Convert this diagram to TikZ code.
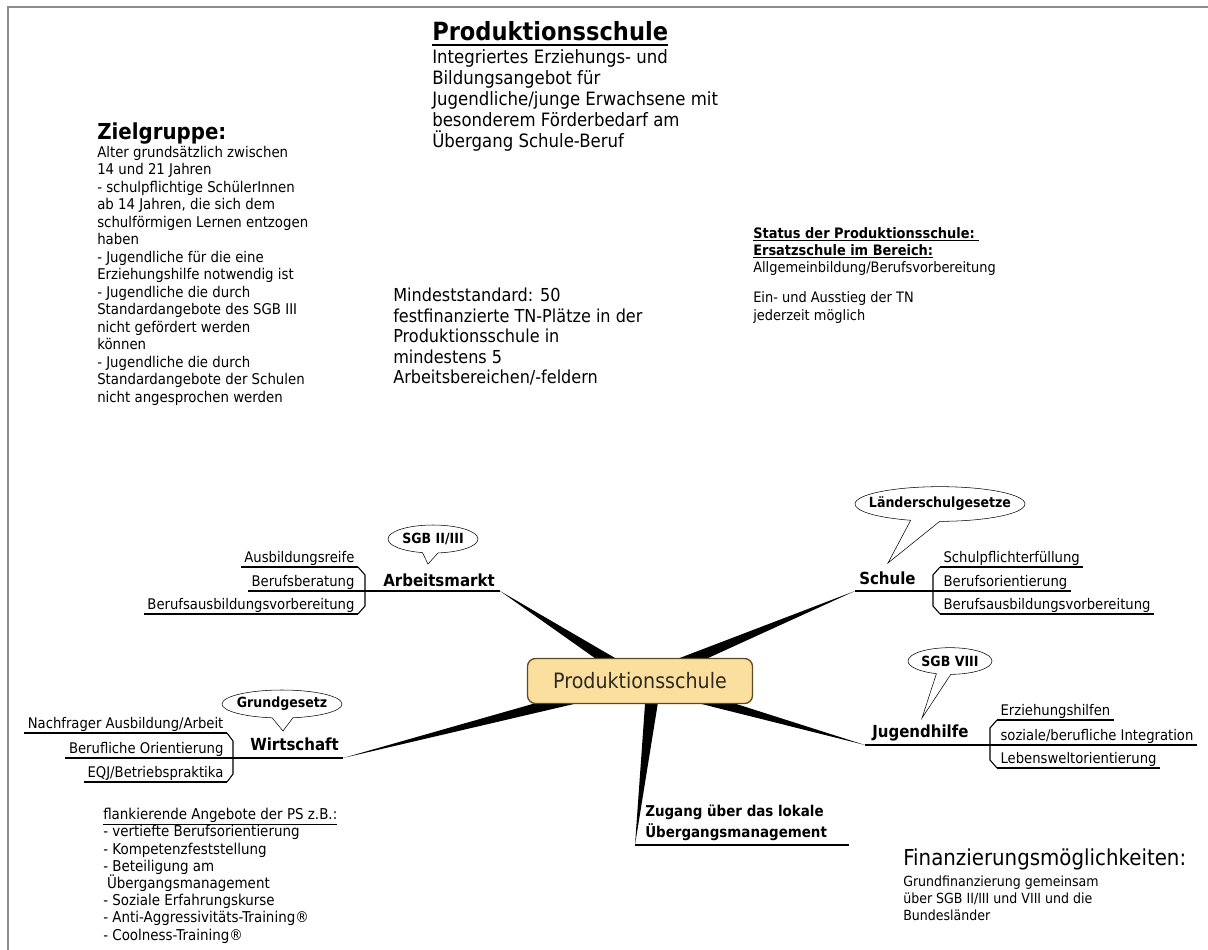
\documentclass[tikz,border=0pt]{standalone}
\usepackage{fontspec}
\setmainfont{DejaVu Sans}[FakeStretch=0.9]
\usepackage{tikz}
\usetikzlibrary{shapes.callouts,backgrounds,calc}

\definecolor{psfill}{HTML}{FBDF9F}
\definecolor{psdraw}{HTML}{5C4A22}
\definecolor{pstext}{HTML}{2E2A22}
\definecolor{framegray}{HTML}{8C8C8C}

\tikzset{
  body/.style={inner sep=0pt, align=left, anchor=north west},
  branch/.style={inner sep=0pt, anchor=base west, font=\bfseries\fontsize{12.5}{15}\selectfont},
  subl/.style={inner xsep=2.5pt, inner ysep=1pt, text depth=0.25em, font=\fontsize{11}{13}\selectfont},
  bubble/.style={ellipse callout, draw, fill=white, inner sep=0pt, callout pointer arc=20, font=\bfseries\fontsize{10.5}{12}\selectfont},
  uline/.style={line width=0.8pt},
}

\begin{document}
\begin{tikzpicture}[x=0.75pt, y=-0.75pt, >=latex]
        \useasboundingbox (0,0) rectangle (1208,950);
        \draw[framegray, line width=1.2pt] (1208,7) -- (8,7) -- (8,950);

        % Kopf
        \node[inner sep=0pt, anchor=base west, font=\bfseries\fontsize{18.8}{22}\selectfont] (title) at (432,40) {Produktionsschule};
        \draw[line width=1.6pt] ([shift={(0,5)}]title.base west) -- ([shift={(0,5)}]title.base east);
        \node[body, font=\fontsize{13.8}{15.75}\selectfont] (intro) at (432,49) {Integriertes Erziehungs- und\\Bildungsangebot für\\Jugendliche/junge Erwachsene mit\\besonderem Förderbedarf am\\Übergang Schule-Beruf};

        % Textbloecke
        \node[inner sep=0pt, anchor=base west, font=\bfseries\fontsize{16.5}{19}\selectfont] (zg) at (97,139) {Zielgruppe:};
        \node[body, font=\fontsize{11.1}{13.1}\selectfont] (zgtext) at (97,146) {Alter grundsätzlich zwischen\\14 und 21 Jahren\\- schulpflichtige SchülerInnen\\ab 14 Jahren, die sich dem\\schulförmigen Lernen entzogen\\haben\\- Jugendliche für die eine\\Erziehungshilfe notwendig ist\\- Jugendliche die durch\\Standardangebote des SGB III\\nicht gefördert werden\\können\\- Jugendliche die durch\\Standardangebote der Schulen\\nicht angesprochen werden};
        \node[body, font=\fontsize{13.4}{15.3}\selectfont] (mind) at (393,288) {Mindeststandard: 50\\festfinanzierte TN-Plätze in der\\Produktionsschule in\\mindestens 5\\Arbeitsbereichen/-feldern};
        \node[body, font=\fontsize{10.8}{13}\selectfont] (status) at (753,227) {\textbf{\underline{Status der Produktionsschule:\ }}\\\textbf{\underline{Ersatzschule im Bereich:}}\\Allgemeinbildung/Berufsvorbereitung\\[9.5pt]Ein- und Ausstieg der TN\\jederzeit möglich};
        \node[body, font=\fontsize{11.2}{12.9}\selectfont] (flank) at (103,808) {\underline{flankierende Angebote der PS z.B.:}\\- vertiefte Berufsorientierung\\- Kompetenzfeststellung\\- Beteiligung am\\\hspace*{0.25em}Übergangsmanagement\\- Soziale Erfahrungskurse\\- Anti-Aggressivitäts-Training®\\- Coolness-Training®};
        \node[inner sep=0pt, anchor=base west, font=\fontsize{16.5}{19}\selectfont] (fin) at (903,865) {Finanzierungsmöglichkeiten:};
        \node[body, font=\fontsize{10.5}{12.75}\selectfont] (fintext) at (903,876) {Grundfinanzierung gemeinsam\\über SGB II/III und VIII und die\\Bundesländer};

        % Zentrum
        \node[draw=psdraw, fill=psfill, rounded corners=6pt, line width=1pt, minimum width=168.75pt, minimum height=33.75pt, text=pstext, font=\fontsize{15.9}{18}\selectfont] (ps) at (640,681) {Produktionsschule};

        % Zweige
        \node[branch] (am) at (383,586) {Arbeitsmarkt};
        \node[branch] (sch) at (859,584) {Schule};
        \node[branch] (jh) at (872,737) {Jugendhilfe};
        \node[branch] (wi) at (250,750) {Wirtschaft};
        \node[inner sep=0pt, anchor=south west, align=left, font=\bfseries\fontsize{11.2}{15.75}\selectfont] (zu) at (645,841) {Zugang über das lokale\\Übergangsmanagement};

        \coordinate (amend) at (500,591);
        \coordinate (scend) at (855,591);
        \coordinate (jhend) at (865,745);
        \coordinate (wiend) at (343,758);
        \coordinate (zuend) at (635,845);
        \coordinate (zubase) at (654,681);

        % Unterpunkte
        \node[subl, anchor=south east] (am1) at (358,567) {Ausbildungsreife};
        \node[subl, anchor=south east] (am2) at (358,591) {Berufsberatung};
        \node[subl, anchor=south east] (am3) at (358,614) {Berufsausbildungsvorbereitung};
        \node[subl, anchor=south west] (sc1) at (940,567) {Schulpflichterfüllung};
        \node[subl, anchor=south west] (sc2) at (940,591) {Berufsorientierung};
        \node[subl, anchor=south west] (sc3) at (940,614) {Berufsausbildungsvorbereitung};
        \node[subl, anchor=south west] (jh1) at (997,720) {Erziehungshilfen};
        \node[subl, anchor=south west] (jh2) at (997,745) {soziale/berufliche Integration};
        \node[subl, anchor=south west] (jh3) at (997,768) {Lebensweltorientierung};
        \node[subl, anchor=south east] (wi1) at (227,733) {Nachfrager Ausbildung/Arbeit};
        \node[subl, anchor=south east] (wi2) at (227,758) {Berufliche Orientierung};
        \node[subl, anchor=south east] (wi3) at (227,782) {EQJ/Betriebspraktika};

        \foreach \n in {am1,am3,sc1,sc3,jh1,jh3,wi1,wi3}
            \draw[uline] (\n.south west) -- (\n.south east);
        \draw[uline] (am2.south west) -- (amend);
        \draw[uline] (scend) -- (sc2.south east);
        \draw[uline] (jhend) -- (jh2.south east);
        \draw[uline] (wi2.south west) -- (wiend);
        \draw[uline] (zuend) -- ($(zuend -| zu.east)+(22,0)$);
        \draw[uline] (am1.south east) -- ++(7,8) -- ([shift={(7,-8)}]am3.south east) -- (am3.south east);
        \draw[uline] (sc1.south west) -- ++(-7,8) -- ([shift={(-7,-8)}]sc3.south west) -- (sc3.south west);
        \draw[uline] (jh1.south west) -- ++(-7,8) -- ([shift={(-7,-8)}]jh3.south west) -- (jh3.south west);
        \draw[uline] (wi1.south east) -- ++(6,8) -- ([shift={(6,-8)}]wi3.south east) -- (wi3.south east);

        % Sprechblasen
        \coordinate (amtip) at (428,564);
        \coordinate (sctip) at (888,563);
        \coordinate (jhtip) at (922,718);
        \coordinate (witip) at (283,731);
        \node[bubble, minimum width=67.5pt, minimum height=21pt, callout absolute pointer={(amtip)}] (sgb23) at (433,539) {\makebox[0pt]{SGB II/III}};
        \node[bubble, minimum width=127.5pt, minimum height=26pt, callout absolute pointer={(sctip)}] (lsg) at (940,504) {\makebox[0pt]{Länderschulgesetze}};
        \node[bubble, minimum width=63pt, minimum height=20pt, callout absolute pointer={(jhtip)}] (sgb8) at (950,661) {\makebox[0pt]{SGB VIII}};
        \node[bubble, minimum width=90pt, minimum height=21pt, callout absolute pointer={(witip)}] (gg) at (282,704) {\makebox[0pt]{Grundgesetz}};

        % Speichen
        \begin{scope}[on background layer]
            \foreach \b/\e in {ps.center/amend, ps.center/scend, ps.center/wiend, ps.center/jhend, zubase/zuend}
                \fill (\e) -- ($(\b)!5.5pt!90:(\e)$) -- ($(\b)!5.5pt!-90:(\e)$) -- cycle;
        \end{scope}

    \end{tikzpicture}
\end{document}
